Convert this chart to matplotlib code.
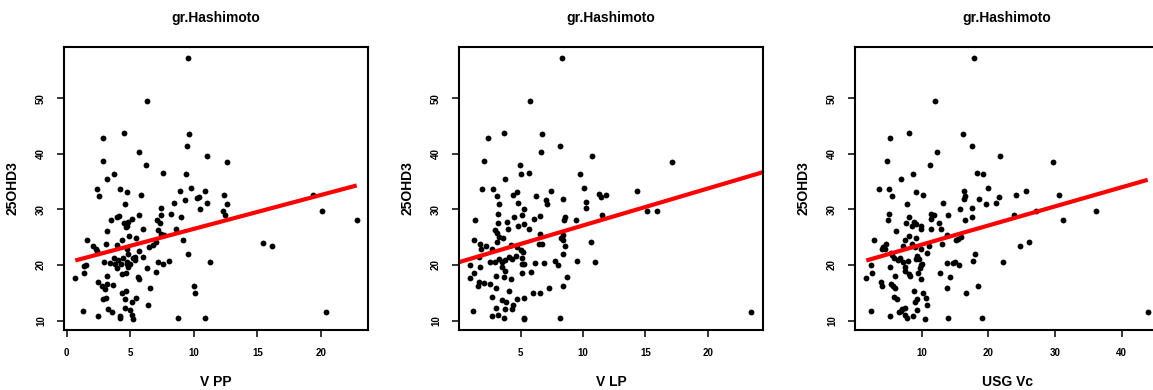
import matplotlib
matplotlib.use("Agg")
import matplotlib.pyplot as plt

plt.rcParams['font.family'] = ['Liberation Sans', 'DejaVu Sans']
plt.rcParams['font.weight'] = 'bold'

# 25OHD3 against V PP
vpp_x = [9.57, 6.32, 2.83, 4.53, 9.59, 9.44, 5.66, 11.04, 2.83, 6.26, 12.61, 3.70, 7.58, 9.41,
         3.20, 9.80, 2.41, 4.19, 8.89, 10.90, 4.72, 2.52, 5.82, 12.37, 10.28, 10.43, 9.31, 4.61,
         8.47, 11.06, 12.61, 7.42, 10.51, 12.27, 5.71, 12.45, 3.96, 4.14, 7.45, 8.18, 8.99, 5.16,
         3.49, 7.13, 4.48, 4.85, 4.77, 4.66, 7.31, 6.03, 3.17, 7.21, 8.62, 4.88, 7.42, 7.68, 5.45,
         1.63, 4.35, 9.15, 7.05, 2.10, 3.93, 3.09, 6.76, 6.50, 2.28, 2.39, 4.74, 5.66, 9.54, 4.82,
         6.00, 3.72, 5.19, 4.43, 4.01, 5.40, 7.18, 2.91, 4.77, 8.05, 11.25, 3.41, 3.83, 4.72, 5.01,
         7.60, 1.55, 1.39, 3.98, 6.34, 0.68, 1.36, 3.17, 4.35, 4.69, 7.05, 5.58, 5.71, 2.44, 3.14,
         3.67, 2.80, 3.01, 6.55, 10.04, 4.66, 4.35, 10.12, 5.45, 3.12, 4.59, 2.88, 5.11, 6.40, 4.56,
         3.28, 3.59, 1.26, 5.01, 20.37, 2.46, 4.19, 4.19, 5.16, 5.24, 8.75, 10.90, 15.47, 16.17,
         19.40, 20.05, 22.80, 4.27, 4.85, 5.35]
vpp_y = [57.2, 49.5, 42.9, 43.8, 43.5, 41.4, 40.3, 39.6, 38.7, 37.9, 38.5, 36.4, 36.6, 36.4,
         35.5, 33.9, 33.7, 33.7, 33.3, 33.3, 33.1, 32.4, 32.6, 32.5, 32.1, 32.3, 31.7, 31.0,
         31.1, 31.2, 30.9, 30.3, 30.0, 29.7, 29.0, 28.9, 28.7, 28.8, 29.0, 29.2, 28.6, 28.3,
         28.0, 28.0, 27.5, 27.7, 27.0, 26.8, 27.5, 26.4, 26.1, 26.3, 26.4, 25.2, 25.6, 25.4, 24.9,
         24.4, 24.5, 24.5, 24.2, 23.4, 23.6, 23.8, 23.5, 23.3, 22.9, 22.5, 22.9, 22.5, 22.0, 21.9,
         21.5, 21.3, 21.2, 21.3, 20.9, 20.9, 20.6, 20.6, 20.6, 20.7, 20.5, 20.3, 20.2, 20.2, 20.2,
         20.2, 20.0, 19.8, 19.4, 19.4, 17.7, 18.5, 18.1, 18.4, 18.5, 18.7, 17.9, 17.4, 17.0, 16.5,
         16.4, 16.2, 15.6, 15.9, 16.2, 15.3, 15.0, 14.9, 14.1, 14.1, 13.9, 13.8, 13.3, 12.8, 12.3,
         12.0, 11.5, 11.8, 11.9, 11.5, 10.8, 10.9, 10.5, 11.0, 10.2, 10.5, 10.5, 24.0, 23.4,
         32.6, 29.7, 28.1, 20.2, 19.6, 21.4]

# 25OHD3 against V LP
vlp_x = [8.30, 5.75, 2.39, 3.67, 6.71, 8.12, 6.63, 10.69, 2.04, 4.97, 17.12, 5.64, 5.05, 9.77,
         3.77, 10.12, 1.91, 2.79, 7.45, 4.73, 14.33, 4.39, 3.13, 6.25, 11.29, 11.85, 11.42, 8.38,
         7.05, 3.27, 4.76, 7.13, 10.25, 5.24, 10.22, 15.10, 15.95, 3.21, 5.13, 4.49, 6.55, 11.50,
         8.54, 6.09, 1.35, 9.48, 3.93, 8.46, 3.16, 5.29, 4.76, 2.92, 3.99, 5.67, 3.08, 6.55, 8.38,
         3.27, 3.61, 8.25, 8.44, 1.27, 10.64, 1.72, 2.26, 4.25, 4.71, 3.08, 6.44, 6.68, 8.54, 1.86,
         2.74, 5.05, 5.19, 8.41, 1.64, 4.09, 4.65, 5.11, 3.24, 3.72, 4.28, 2.58, 2.95, 3.53, 6.12,
         6.87, 7.72, 9.56, 11.00, 0.92, 5.08, 5.27, 8.01, 1.78, 3.51, 3.72, 5.80, 1.27, 5.13, 3.03,
         3.69, 8.73, 0.95, 4.20, 1.64, 2.10, 2.58, 1.62, 8.38, 3.03, 7.26, 4.09, 5.99, 6.55, 2.74,
         5.24, 4.68, 3.53, 3.83, 4.39, 3.00, 3.77, 4.33, 1.16, 23.49, 2.71, 3.19, 3.64, 5.24, 5.27,
         8.17]
vlp_y = [57.2, 49.5, 42.8, 43.8, 43.5, 41.4, 40.3, 39.6, 38.7, 37.9, 38.5, 36.6, 36.4, 36.4,
         35.5, 33.9, 33.7, 33.7, 33.3, 33.1, 33.3, 32.6, 32.4, 32.4, 32.7, 32.5, 32.2, 31.9,
         31.7, 31.0, 31.1, 30.9, 31.3, 30.0, 30.3, 29.7, 29.7, 29.2, 28.9, 28.7, 28.8, 28.9,
         28.6, 28.3, 28.1, 28.0, 27.8, 28.0, 27.5, 27.3, 27.0, 26.2, 26.4, 26.4, 25.7, 25.5, 25.4,
         25.0, 24.8, 24.9, 24.5, 24.4, 24.1, 23.8, 23.4, 23.5, 23.2, 24.1, 23.7, 23.7, 23.4, 22.8,
         22.9, 22.7, 22.4, 22.0, 21.5, 21.5, 21.6, 21.3, 21.0, 20.9, 21.0, 20.5, 20.6, 20.6, 20.4,
         20.4, 20.7, 20.7, 20.5, 20.0, 20.1, 20.1, 20.0, 19.7, 19.6, 19.0, 18.7, 18.5, 18.5, 18.1,
         17.9, 17.9, 17.7, 17.4, 17.0, 16.8, 16.6, 16.3, 16.2, 15.8, 15.9, 15.4, 15.0, 14.9, 14.2,
         14.1, 13.8, 13.7, 13.3, 12.8, 12.2, 12.1, 12.0, 11.8, 11.5, 10.9, 11.0, 10.5, 10.4, 10.2,
         10.5]

# 25OHD3 against USG Vc
vc_x = [17.84, 12.00, 5.21, 8.15, 16.24, 17.54, 12.30, 21.78, 4.81, 11.20, 29.72, 18.34, 19.24,
        8.75, 6.90, 19.89, 3.61, 5.16, 16.34, 9.15, 25.63, 10.20, 5.61, 16.54, 24.23, 30.67, 21.63,
        16.34, 18.59, 7.85, 13.20, 21.18, 19.69, 17.54, 15.74, 36.16, 27.22, 5.16, 11.35, 11.85,
        8.05, 13.89, 17.54, 23.93, 11.35, 4.91, 31.27, 16.54, 8.80, 7.60, 12.60, 9.10, 8.55, 9.85,
        9.95, 11.35, 12.90, 6.16, 13.74, 8.05, 15.89, 9.10, 15.39, 15.19, 2.81, 26.08, 7.50, 4.71,
        7.25, 8.60, 11.05, 13.10, 24.73, 4.26, 8.95, 4.01, 4.56, 9.90, 5.46, 10.85, 17.94, 5.61,
        9.30, 6.70, 5.91, 9.15, 9.65, 6.46, 7.90, 7.20, 13.79, 14.64, 14.94, 17.64, 22.18, 2.46,
        9.90, 10.05, 15.54, 5.26, 7.45, 9.75, 7.45, 2.61, 9.45, 8.05, 8.25, 6.05, 12.80, 14.29,
        1.71, 9.90, 3.96, 4.06, 5.46, 5.76, 6.06, 13.84, 18.39, 8.80, 10.25, 16.64, 5.91, 6.31,
        9.30, 10.65, 8.95, 10.75, 7.05, 7.45, 9.35, 2.36, 43.90, 6.56, 6.86, 5.21, 7.50, 7.80,
        8.70, 10.45, 13.89, 19.04]
vc_y = [57.2, 49.5, 42.8, 43.8, 43.5, 41.4, 40.3, 39.6, 38.7, 37.9, 38.5, 36.6, 36.4,
        36.4, 35.5, 33.9, 33.7, 33.7, 33.3, 33.1, 33.3, 32.6, 32.4, 32.4, 32.5, 32.6, 32.2,
        31.8, 31.9, 31.0, 31.1, 31.2, 30.9, 30.3, 30.0, 29.7, 29.7, 29.1, 29.2, 28.9,
        28.7, 28.9, 28.6, 28.9, 28.3, 28.0, 28.0, 28.0, 27.7, 27.5, 27.5, 27.3, 27.0, 27.0,
        26.4, 26.4, 26.4, 26.1, 25.4, 25.2, 25.0, 24.8, 24.6, 24.5, 24.4, 24.1, 24.4, 23.8,
        23.4, 23.8, 23.4, 23.7, 23.4, 23.2, 23.2, 22.8, 22.9, 22.8, 22.2, 22.2, 22.0, 21.7,
        21.6, 21.3, 21.2, 21.0, 21.0, 20.9, 20.8, 20.6, 20.4, 20.4, 20.6, 20.7, 20.5, 20.0,
        20.0, 20.1, 20.0, 19.7, 19.6, 19.5, 19.0, 18.5, 18.5, 18.4, 18.0, 18.1, 18.6, 17.9,
        17.7, 17.4, 17.0, 16.3, 16.5, 16.3, 15.9, 15.9, 16.2, 15.4, 14.9, 14.9, 14.2, 13.8,
        13.8, 14.1, 13.3, 12.8, 12.1, 12.2, 11.9, 11.8, 11.5, 11.5, 11.8, 10.8, 11.0, 10.5,
        10.9, 10.2, 10.5, 10.5]

xlabels = ['V PP', 'V LP', 'USG Vc']
xticks = [[0, 5, 10, 15, 20], [5, 10, 15, 20], [10, 20, 30, 40]]
yticks = [10, 20, 30, 40, 50]

# fitted lines: intercept, slope, x range covered
intercepts = [20.39, 20.46, 20.21]
slopes = [0.61, 0.664, 0.344]
line_ranges = [(0.68, 22.8), (0.06, 24.44), (1.71, 43.9)]

xlims = [(-0.21, 23.69), (0.06, 24.44), (0.02, 45.6)]
ylim = (8.3, 59.2)

W, H = 1153, 390
fig = plt.figure(figsize=(W / 100, H / 100), dpi=100)

lefts = [64, 459, 855]
box_w = 304
box_top, box_bot = 47, 330

xs = [vpp_x, vlp_x, vc_x]
ys = [vpp_y, vlp_y, vc_y]

for i in range(3):
    ax = fig.add_axes([lefts[i] / W, (H - box_bot) / H, box_w / W, (box_bot - box_top) / H])
    ax.plot(xs[i], ys[i], 'o', color='black', ms=4.2, mew=0)
    x0, x1 = line_ranges[i]
    ax.plot([x0, x1], [intercepts[i] + slopes[i] * x0, intercepts[i] + slopes[i] * x1],
            color='red', lw=3, solid_capstyle='butt')
    ax.set_xlim(xlims[i])
    ax.set_ylim(ylim)
    ax.set_xticks(xticks[i])
    ax.set_yticks(yticks)
    ax.set_yticklabels([str(t) for t in yticks], rotation=90, va='center')
    ax.tick_params(direction='out', length=5, width=1.1, labelsize=7, pad=8, color='black')
    for sp in ax.spines.values():
        sp.set_linewidth(1.5)
        sp.set_color('black')
    ax.set_title('gr.Hashimoto', fontsize=10, fontweight='bold', pad=18)
    ax.set_xlabel(xlabels[i], fontsize=10, fontweight='bold', labelpad=12)
    ax.set_ylabel('25OHD3', fontsize=10, fontweight='bold', labelpad=12)

fig.savefig('out.png', dpi=100)
